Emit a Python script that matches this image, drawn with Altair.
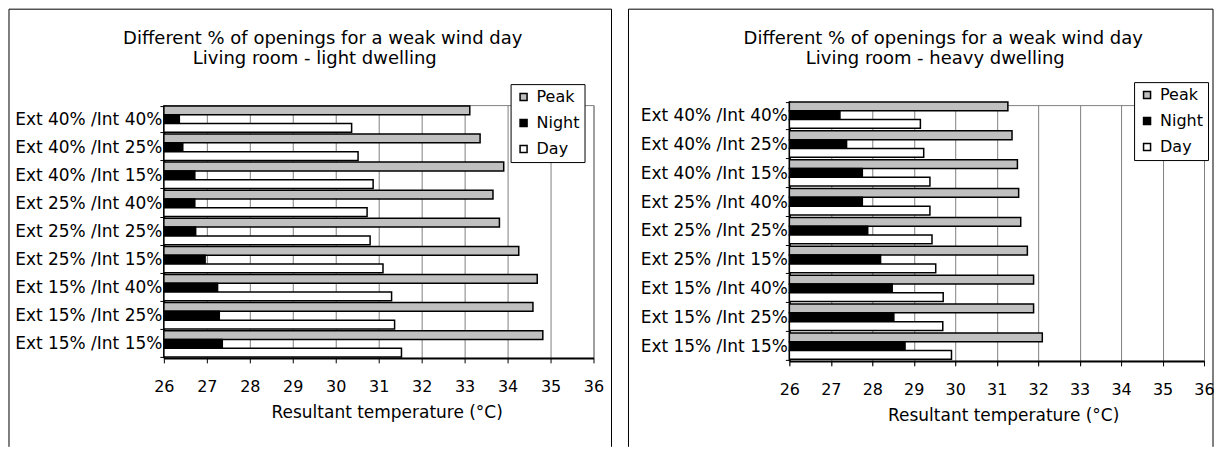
import altair as alt
import pandas as pd

FONT = "DejaVu Sans"

categories = ["Ext 40% /Int 40%", "Ext 40% /Int 25%", "Ext 40% /Int 15%",
              "Ext 25% /Int 40%", "Ext 25% /Int 25%", "Ext 25% /Int 15%",
              "Ext 15% /Int 40%", "Ext 15% /Int 25%", "Ext 15% /Int 15%"]
series = ["Peak", "Night", "Day"]
series_colors = ["#c0c0c0", "#000000", "#ffffff"]

light_peak = [33.12, 33.36, 33.91, 33.66, 33.81, 34.26, 34.69, 34.59, 34.82]
light_night = [26.36, 26.44, 26.72, 26.72, 26.74, 26.96, 27.25, 27.29, 27.36]
light_day = [30.37, 30.52, 30.87, 30.73, 30.80, 31.10, 31.30, 31.37, 31.53]

heavy_peak = [31.27, 31.37, 31.50, 31.53, 31.58, 31.74, 31.89, 31.89, 32.10]
heavy_night = [27.22, 27.38, 27.76, 27.76, 27.89, 28.20, 28.48, 28.52, 28.79]
heavy_day = [29.16, 29.24, 29.39, 29.39, 29.44, 29.53, 29.71, 29.70, 29.91]

x_ticks = list(range(26, 37))
title_line1 = "Different % of openings for a weak wind day"
light_line2 = "Living room  - light dwelling"
heavy_line2 = "Living room  - heavy dwelling"
x_title = "Resultant temperature (°C)"


def panel(peak, night, day, line2, w, h, yrange, frame, t1x, t2x, ty1, ty2, lx, ly, axtx):
    rows = []
    for c, p, n, d in zip(categories, peak, night, day):
        rows.append({"cat": c, "series": "Peak", "value": p})
        rows.append({"cat": c, "series": "Night", "value": n})
        rows.append({"cat": c, "series": "Day", "value": d})
    df = pd.DataFrame(rows)

    bars = alt.Chart(df).mark_bar(stroke="black", strokeWidth=1.5).encode(
        y=alt.Y("cat:N", sort=categories,
                scale=alt.Scale(paddingInner=0.06, paddingOuter=0.03, range=yrange),
                axis=alt.Axis(title=None, labelFont=FONT, labelFontSize=17,
                              labelColor="black", domainColor="black", domainWidth=2,
                              tickColor="black", tickSize=4, tickBand="extent",
                              labelPadding=-2, labelLimit=300)),
        yOffset=alt.YOffset("series:N", sort=series,
                            scale=alt.Scale(domain=series, paddingInner=0, paddingOuter=0)),
        x=alt.X("value:Q", scale=alt.Scale(domain=[26, 36], zero=False, nice=False),
                axis=alt.Axis(values=x_ticks, title=x_title, grid=True,
                              gridColor="#808080", gridWidth=1,
                              domainColor="black", domainWidth=2,
                              tickColor="black", tickSize=5,
                              labelFont=FONT, labelFontSize=16, labelColor="black",
                              labelPadding=16, labelFlush=False,
                              titleFont=FONT, titleFontSize=17, titleFontWeight="normal",
                              titleColor="black", titlePadding=10,
                              titleX=axtx, titleAlign="center")),
        x2=alt.datum(26),
        fill=alt.Fill("series:N", sort=series,
                      scale=alt.Scale(domain=series, range=series_colors),
                      legend=alt.Legend(title=None, orient="none", legendX=lx, legendY=ly,
                                        direction="vertical", symbolType="square",
                                        symbolSize=49, symbolStrokeColor="black",
                                        symbolStrokeWidth=1.5, labelFont=FONT,
                                        labelFontSize=16, labelColor="black",
                                        labelLimit=200, strokeColor="black",
                                        fillColor="white", padding=5, rowPadding=10,
                                        labelOffset=5)),
    )

    one = pd.DataFrame({"k": [0]})
    fx0, fy0, fx1, fy1 = frame
    fr_left = alt.Chart(one).mark_rule(color="black", strokeWidth=1).encode(
        x=alt.value(fx0), y=alt.value(fy0), y2=alt.value(fy1))
    fr_top = alt.Chart(one).mark_rule(color="black", strokeWidth=1).encode(
        x=alt.value(fx0), x2=alt.value(fx1), y=alt.value(fy0))
    fr_right = alt.Chart(one).mark_rule(color="black", strokeWidth=1).encode(
        x=alt.value(fx1), y=alt.value(fy0), y2=alt.value(fy1))

    t1 = alt.Chart(one).mark_text(font=FONT, fontSize=18, align="center",
                                  baseline="alphabetic", color="black").encode(
        x=alt.value(t1x), y=alt.value(ty1), text=alt.value(title_line1))
    t2 = alt.Chart(one).mark_text(font=FONT, fontSize=18, align="center",
                                  baseline="alphabetic", color="black").encode(
        x=alt.value(t2x), y=alt.value(ty2), text=alt.value(line2))

    return alt.layer(fr_left, fr_top, fr_right, bars, t1, t2).properties(width=w, height=h)


left = panel(light_peak, light_night, light_day, light_line2, 430, 253, [0, 253],
             (-155, -96, 448, 342), 159, 151, -61, -41, 347, -21, 223)
right = panel(heavy_peak, heavy_night, heavy_day, heavy_line2, 415, 256, [-4, 256],
              (-161, -96, 424, 342), 154, 146, -61, -41, 345, -23, 214)

chart = alt.hconcat(left, right, spacing=15).resolve_scale(
    fill="independent"
).resolve_legend(fill="independent").properties(
    padding=0, background="white"
).configure_view(stroke="#808080", strokeWidth=1)

chart.save("out.html", embed_options={"renderer": "svg", "actions": False})
